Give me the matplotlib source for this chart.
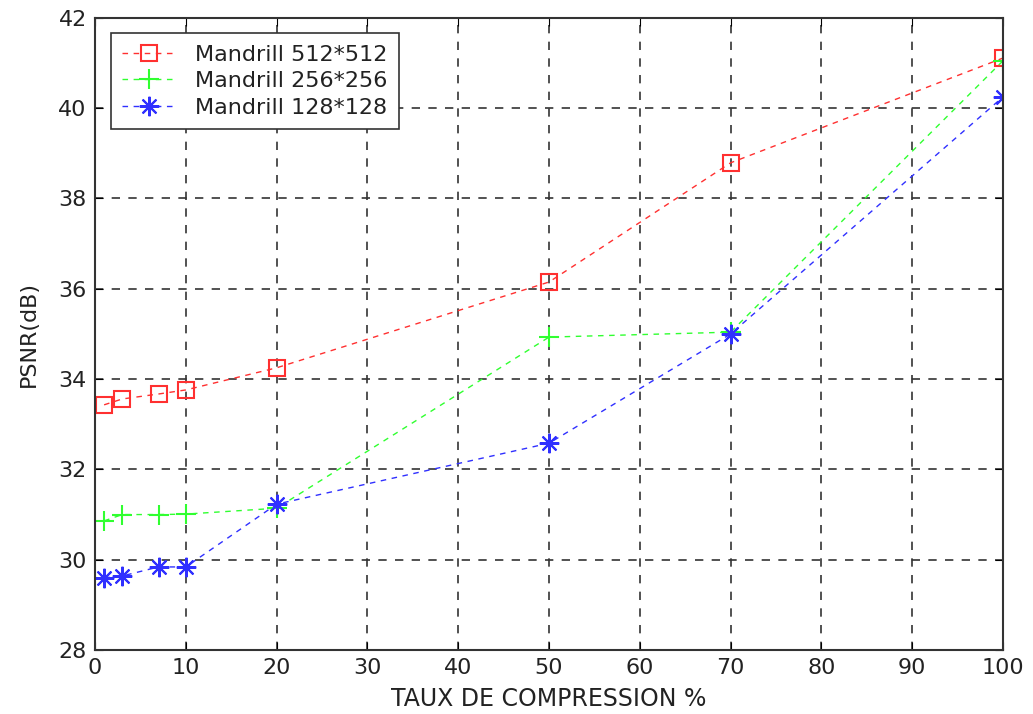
import matplotlib
matplotlib.use("Agg")
import matplotlib.pyplot as plt

plt.rcParams["font.family"] = ["DejaVu Sans"]

# taux de compression (%) et PSNR (dB)
taux = [1, 3, 7, 10, 20, 50, 70, 100]
psnr_512 = [33.43, 33.56, 33.67, 33.76, 34.25, 36.15, 38.79, 41.11]
psnr_256 = [30.86, 31.0, 31.0, 31.01, 31.14, 34.93, 35.04, 41.05]
psnr_128 = [29.6, 29.64, 29.84, 29.84, 31.23, 32.58, 35.0, 40.25]

fig = plt.figure(figsize=(10.33, 7.14), dpi=100)
ax = fig.add_axes([0.092, 0.0896, 0.879, 0.8854])

ax.plot(taux, psnr_512, color="#ff3030", linestyle="--", dashes=(4, 4), linewidth=1,
        marker="s", markersize=12, markerfacecolor="none", markeredgewidth=1.5,
        label="Mandrill 512*512")
ax.plot(taux, psnr_256, color="#30ff30", linestyle="--", dashes=(4, 4), linewidth=1,
        marker="+", markersize=15, markeredgewidth=1.5,
        label="Mandrill 256*256")
ax.plot(taux, psnr_128, color="#3030ff", linestyle="--", dashes=(4, 4), linewidth=1,
        marker=(8, 2, 0), markersize=14, markeredgewidth=1.5,
        label="Mandrill 128*128")

ax.set_xlim(0, 100)
ax.set_ylim(28, 42)
ax.set_xticks(range(0, 101, 10))
ax.set_yticks(range(28, 43, 2))
ax.grid(True, color="#333333", linestyle="--", dashes=(5, 5), linewidth=1.2)
ax.tick_params(direction="in", labelsize=16, length=6, top=True, right=True,
               labelcolor="#222222", pad=6)
for s in ax.spines.values():
    s.set_color("#333333")
    s.set_linewidth(1.5)

ax.set_xlabel("TAUX DE COMPRESSION %", fontsize=17, labelpad=6, color="#222222")
ax.set_ylabel("PSNR(dB)", fontsize=16, labelpad=14, color="#222222")

leg = ax.legend(loc="upper left", fontsize=16, fancybox=False, framealpha=1,
                edgecolor="#333333", borderaxespad=0.7, handlelength=2.5,
                labelspacing=0.3, borderpad=0.5)
for t in leg.get_texts():
    t.set_color("#222222")
leg.get_frame().set_linewidth(1.2)

fig.savefig("out.png", dpi=100)
